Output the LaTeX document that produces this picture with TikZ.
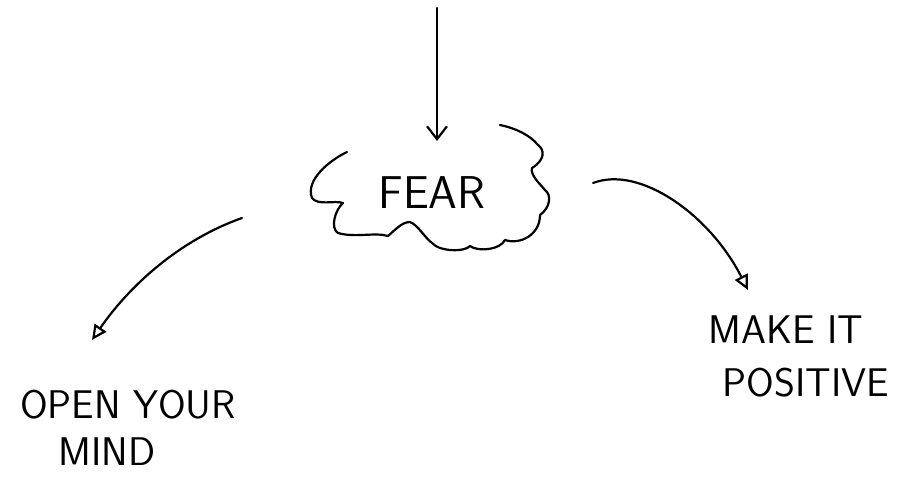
\documentclass[tikz,border=0pt]{standalone}
\usetikzlibrary{arrows.meta}
\begin{document}
\begin{tikzpicture}[x=1pt,y=-1pt,
  pen/.style={line width=2.2pt, line cap=round, line join=round, black},
  word/.style={font=\sffamily\fontsize{40}{44}\selectfont, inner sep=0pt, anchor=center},
  vtip/.style={-{Straight Barb[length=13pt,width=20pt,line width=2.2pt]}},
  ttip/.style={-{Triangle[open,length=15pt,width=14pt,line width=2.2pt]}}]
\useasboundingbox (0,0) rectangle (899,479);
\fill[white] (0,0) rectangle (899,479);

% cloud
\draw[pen] (347,152) .. controls (330,160) and (305,180) .. (312,198)
  .. controls (318,206) and (335,200) .. (343,203)
  .. controls (335,210) and (330,228) .. (338,233)
  .. controls (355,238) and (375,232) .. (388,236)
  .. controls (395,230) and (402,222) .. (410,222)
  .. controls (418,225) and (425,238) .. (432,243)
  .. controls (440,252) and (465,252) .. (470,246)
  .. controls (478,252) and (500,250) .. (505,240)
  .. controls (520,245) and (540,235) .. (540,215)
  .. controls (550,208) and (552,195) .. (545,190)
  .. controls (540,184) and (530,175) .. (532,168)
  .. controls (545,160) and (545,150) .. (538,145)
  .. controls (530,135) and (515,128) .. (500,125);

\node[word, font=\sffamily\fontsize{46}{50}\selectfont] (fear) at (432,193) {FEAR};

\node[word] (open) at (128,405) {OPEN YOUR};
\node[word] (mind) at (107,452) {MIND};
\node[word] (make) at (786,330) {MAKE IT};
\node[word] (pos) at (806,383) {POSITIVE};

\coordinate (topstart) at (437,8);
\coordinate (topend) at (437,141);
\coordinate (lstart) at (242,218);
\coordinate (lend) at (92,340);
\coordinate (rstart) at (593,183);
\coordinate (rend) at (748,290);

\draw[pen, vtip] (topstart) -- (topend);
\draw[pen, ttip] (lstart) .. controls (180,240) and (130,285) .. (lend);
\draw[pen, ttip] (rstart) .. controls (640,165) and (710,215) .. (rend);
\end{tikzpicture}
\end{document}
